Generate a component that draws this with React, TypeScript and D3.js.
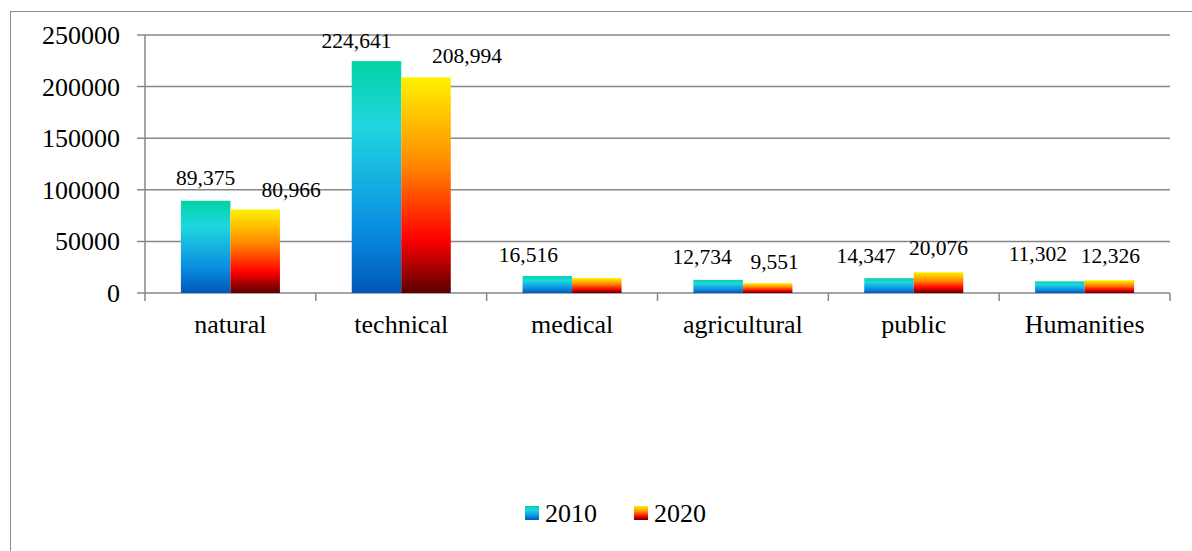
import React from "react";
import * as d3 from "d3";

const categories = ["natural", "technical", "medical", "agricultural", "public", "Humanities"];
const series2010 = [89375, 224641, 16516, 12734, 14347, 11302];
const series2020 = [80966, 208994, 14500, 9551, 20076, 12326];
const labels2010 = ["89,375", "224,641", "16,516", "12,734", "14,347", "11,302"];
const labels2020 = ["80,966", "208,994", "", "9,551", "20,076", "12,326"];
const yTicks = [0, 50000, 100000, 150000, 200000, 250000];
const seriesNames = ["2010", "2020"];
// manual label nudges (px), as in the reference
const labelDx2010 = [0, -20, -19, -16, -23, -22];
const labelDx2020 = [36, 41, 0, 7, 0, 1];
const labelDy2010 = [-16, -13, -14, -16, -15, -20];
const labelDy2020 = [-12, -14, -14, -14, -17, -17];

const W = 1192;
const H = 551;
const plot = { left: 145, right: 1170, top: 35, bottom: 293 };
const font = "Liberation Serif, Tinos, Times New Roman, DejaVu Serif, serif";
const grid = "#878787";
const txt = { fontFamily: font };

export default function App() {
  const x = d3.scaleBand<string>().domain(categories).range([plot.left, plot.right]).paddingInner(0).paddingOuter(0);
  const bw = x.bandwidth();
  const barW = bw / 3.45;
  const offset = (bw - 2 * barW) / 2;
  const y = d3.scaleLinear().domain([0, 250000]).range([plot.bottom, plot.top]);

  return (
    <svg width={W} height={H} style={{ position: "absolute", left: 0, top: 0, fontFamily: font }}>
      <defs>
        <linearGradient id="g2010" x1="0" y1="0" x2="0" y2="1">
          <stop offset="0" stopColor="#02d3a6" />
          <stop offset="0.28" stopColor="#20d6df" />
          <stop offset="0.72" stopColor="#0a8ee2" />
          <stop offset="1" stopColor="#0058b8" />
        </linearGradient>
        <linearGradient id="g2020" x1="0" y1="0" x2="0" y2="1">
          <stop offset="0" stopColor="#fff200" />
          <stop offset="0.4" stopColor="#ff8a00" />
          <stop offset="0.75" stopColor="#ff0000" />
          <stop offset="1" stopColor="#5a0000" />
        </linearGradient>
      </defs>
      <rect x={0} y={0} width={W} height={H} fill="#fff" />
      <rect x={10.5} y={11.5} width={W + 20} height={H + 20} fill="none" stroke="#8c8c8c" strokeWidth={1} />

      {yTicks.map((t) => (
        <g key={t}>
          <line x1={plot.left - 8} x2={plot.right} y1={y(t)} y2={y(t)} stroke={grid} strokeWidth={1.5} />
          <text x={plot.left - 25} y={y(t) + 9} textAnchor="end" fontSize={26} fill="#000" style={txt}>
            {t}
          </text>
        </g>
      ))}
      <line x1={plot.left} x2={plot.left} y1={plot.top} y2={plot.bottom + 8} stroke={grid} strokeWidth={1.5} />
      {categories.map((c, i) => (
        <line key={"t" + i} x1={(x(c) as number) + bw} x2={(x(c) as number) + bw} y1={plot.bottom} y2={plot.bottom + 8} stroke={grid} strokeWidth={1.5} />
      ))}

      {categories.map((c, i) => {
        const x0 = (x(c) as number) + offset;
        const x1 = x0 + barW;
        return (
          <g key={c}>
            <rect x={x0} y={y(series2010[i])} width={barW} height={plot.bottom - y(series2010[i])} fill="url(#g2010)" />
            <rect x={x1} y={y(series2020[i])} width={barW} height={plot.bottom - y(series2020[i])} fill="url(#g2020)" />
            <text x={x0 + barW / 2 + labelDx2010[i]} y={y(series2010[i]) + labelDy2010[i]} textAnchor="middle" fontSize={21.5} fill="#000" style={txt}>
              {labels2010[i]}
            </text>
            {labels2020[i] && (
              <text x={x1 + barW / 2 + labelDx2020[i]} y={y(series2020[i]) + labelDy2020[i]} textAnchor="middle" fontSize={21.5} fill="#000" style={txt}>
                {labels2020[i]}
              </text>
            )}
            <text x={(x(c) as number) + bw / 2} y={333} textAnchor="middle" fontSize={26} fill="#000" style={txt}>
              {c}
            </text>
          </g>
        );
      })}

      {seriesNames.map((s, i) => {
        const lx = 525 + i * 109;
        return (
          <g key={s}>
            <rect x={lx} y={506} width={14} height={14} fill={i === 0 ? "url(#g2010)" : "url(#g2020)"} />
            <text x={lx + 20} y={522} fontSize={26} fill="#000" style={txt}>
              {s}
            </text>
          </g>
        );
      })}
    </svg>
  );
}
